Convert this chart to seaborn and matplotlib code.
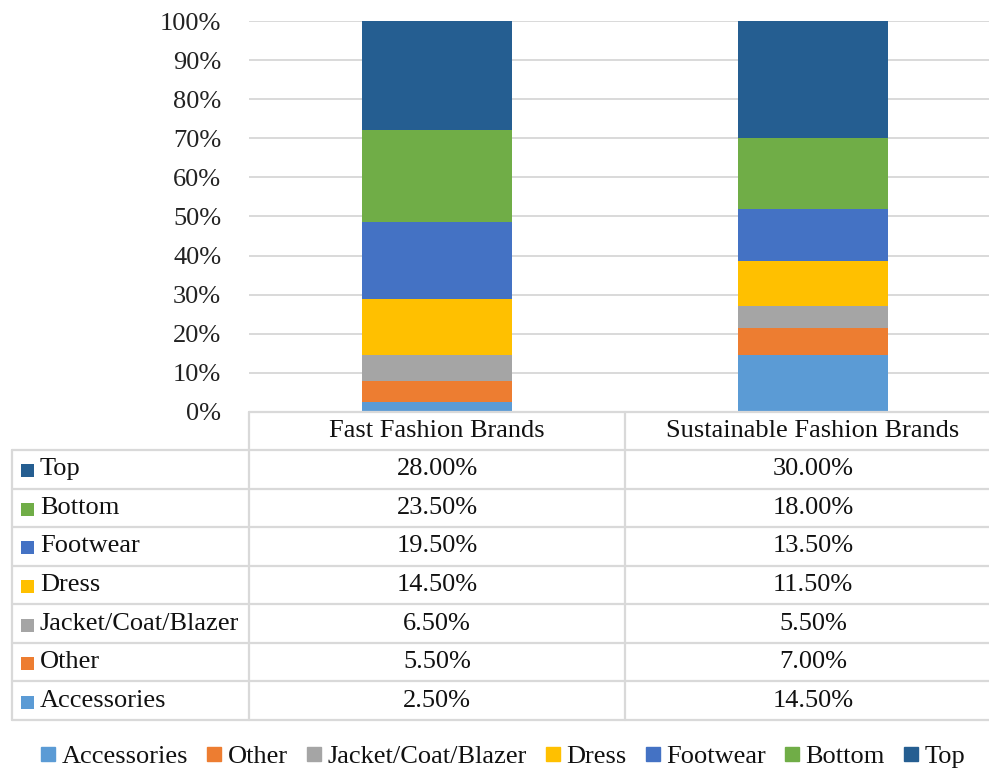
import pandas as pd
import seaborn as sns
import matplotlib.pyplot as plt
from matplotlib.lines import Line2D

sns.set_theme(style="white")
plt.rcParams['font.family'] = ['Liberation Serif', 'DejaVu Serif']

brands = ["Fast Fashion Brands", "Sustainable Fashion Brands"]
segments = ["Accessories", "Other", "Jacket/Coat/Blazer", "Dress", "Footwear", "Bottom", "Top"]
accessories = [2.5, 14.5]
other = [5.5, 7.0]
jacket = [6.5, 5.5]
dress = [14.5, 11.5]
footwear = [19.5, 13.5]
bottom = [23.5, 18.0]
top = [28.0, 30.0]
colors = ["#5B9BD5", "#ED7D31", "#A5A5A5", "#FFC000", "#4472C4", "#70AD47", "#255E91"]

df = pd.DataFrame(dict(zip(segments, [accessories, other, jacket, dress, footwear, bottom, top])),
                  index=brands)
cum = df.cumsum(axis=1)

W, H = 989, 770
FS = 19
GRID = "#D9D9D9"
fig = plt.figure(figsize=(W / 100, H / 100), dpi=100)

ax = fig.add_axes([249 / W, 1 - 412 / H, (1001 - 249) / W, (412 - 21) / H])
# stacked bars: draw cumulative totals from the top segment down
for seg, col in reversed(list(zip(segments, colors))):
    sns.barplot(x=brands, y=cum[seg].values, color=col, saturation=1,
                width=0.4, linewidth=0, ax=ax)

ax.set_xlim(-0.5, 1.5)
ax.set_ylim(0, 100)
ax.set_yticks(range(0, 101, 10))
ax.set_yticklabels([f"{v}%" for v in range(0, 101, 10)], fontsize=FS, color="#222222")
ax.set_xticks([])
ax.tick_params(axis="y", length=0, pad=20)
ax.yaxis.grid(True, color=GRID, linewidth=1.4)
ax.set_axisbelow(True)
for s in ax.spines.values():
    s.set_visible(False)
ax.set_xlabel("")
ax.set_ylabel("")

# data table under the chart
tab = fig.add_axes([0, 0, 1, 1])
tab.set_xlim(0, W)
tab.set_ylim(H, 0)
tab.axis("off")
tab.patch.set_alpha(0)

row_top, row_bot = 450, 720
rh = (row_bot - row_top) / 7
col_x = [12, 249, 625, 1001]
lw = 1.6

tab.plot([249, 1001], [412, 412], color=GRID, lw=lw)
for i in range(8):
    y = row_top + i * rh
    tab.plot([12, 1001], [y, y], color=GRID, lw=lw)
tab.plot([12, 12], [row_top, row_bot], color=GRID, lw=lw)
for x in col_x[1:]:
    tab.plot([x, x], [412, row_bot], color=GRID, lw=lw)

for j, b in enumerate(brands):
    cx = (col_x[j + 1] + col_x[j + 2]) / 2
    tab.text(cx, 431, b, ha="center", va="center", fontsize=FS, color="#111111")

for i, seg in enumerate(reversed(segments)):
    cy = row_top + i * rh + rh / 2
    col = colors[segments.index(seg)]
    tab.add_patch(plt.Rectangle((20.5, cy - 5), 13, 13, color=col, lw=0))
    tab.text(40, cy, seg, ha="left", va="center", fontsize=FS, color="#111111")
    for j in range(2):
        cx = (col_x[j + 1] + col_x[j + 2]) / 2
        tab.text(cx, cy, f"{df[seg].iloc[j]:.2f}%", ha="center", va="center",
                 fontsize=FS, color="#111111")

handles = [Line2D([], [], marker="s", linestyle="", color=c, markersize=9.5) for c in colors]
fig.legend(handles, segments, ncol=7, loc="center", bbox_to_anchor=(0.509, 1 - 756 / H),
           frameon=False, fontsize=FS, handlelength=0.5, handletextpad=0.25,
           columnspacing=0.75, labelcolor="#111111")

fig.savefig("out.png", dpi=100)
